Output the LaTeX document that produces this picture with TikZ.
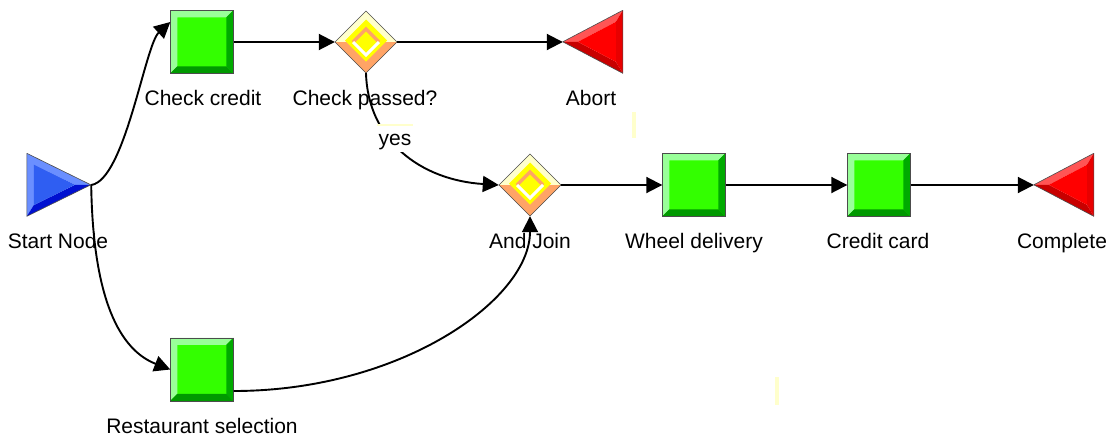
\documentclass[tikz,border=0pt]{standalone}
\usepackage{fontspec}
\setmainfont{Liberation Sans}
\usetikzlibrary{shapes.geometric,arrows.meta,calc}
\definecolor{sqmid}{HTML}{33FF00}
\definecolor{sqlight}{HTML}{99FF99}
\definecolor{sqdark}{HTML}{009900}
\definecolor{sqright}{HTML}{00AA00}
\definecolor{blmid}{HTML}{2F5EF2}
\definecolor{bllight}{HTML}{6A8FFF}
\definecolor{bldark}{HTML}{0010D0}
\definecolor{rdmid}{HTML}{FF0000}
\definecolor{rdlight}{HTML}{FF5555}
\definecolor{rdright}{HTML}{E80000}
\definecolor{rddark}{HTML}{C80000}
\definecolor{dpale}{HTML}{FFFFCC}
\definecolor{dsal}{HTML}{FFA466}
\definecolor{dyel}{HTML}{FFFF00}
\newcommand{\drawsquare}[1]{%
  \begin{scope}[shift={(#1.north west)}]
    \fill[sqmid] (0,0) rectangle (63,63);
    \fill[sqlight] (0,0) -- (63,0) -- (56,7) -- (7,7) -- (7,56) -- (0,63) -- cycle;
    \fill[sqright] (63,0) -- (63,63) -- (56,56) -- (56,7) -- cycle;
    \fill[sqdark] (0,63) -- (63,63) -- (56,56) -- (7,56) -- cycle;
    \draw[black!70, line width=0.6pt] (0,0) rectangle (63,63);
  \end{scope}}
\newcommand{\drawstart}[1]{%
  \begin{scope}[shift={(#1.north west)}]
    \fill[bllight] (0,0) -- (64,31.5) -- (48.2,31.5) -- (7,11.2) -- (7,51.8) -- (0,63) -- cycle;
    \fill[bldark] (0,63) -- (64,31.5) -- (48.2,31.5) -- (7,51.8) -- cycle;
    \fill[blmid] (7,11.2) -- (48.2,31.5) -- (7,51.8) -- cycle;
    \draw[black!70, line width=0.6pt, line join=round] (0,0) -- (64,31.5) -- (0,63) -- cycle;
  \end{scope}}
\newcommand{\drawend}[1]{%
  \begin{scope}[shift={(#1.north west)}]
    \fill[rdlight] (0,31.5) -- (60,0) -- (53,11.6) -- (15,31.5) -- cycle;
    \fill[rdright] (60,0) -- (60,63) -- (53,51.4) -- (53,11.6) -- cycle;
    \fill[rddark] (0,31.5) -- (60,63) -- (53,51.4) -- (15,31.5) -- cycle;
    \fill[rdmid] (15,31.5) -- (53,11.6) -- (53,51.4) -- cycle;
    \draw[black!70, line width=0.6pt, line join=round] (0,31.5) -- (60,0) -- (60,63) -- cycle;
  \end{scope}}
\newcommand{\drawgate}[1]{%
  \begin{scope}[shift={(#1.center)}]
    \fill[dpale] (-31,0) -- (0,-31) -- (31,0) -- cycle;
    \fill[dsal] (-31,0) -- (0,31) -- (31,0) -- cycle;
    \fill[dyel] (-21,-1.5) -- (0,-22.5) -- (21,-1.5) -- (0,19.5) -- cycle;
    \draw[dsal, line width=3.5pt] (-13,0) -- (0,-13) -- (13,0);
    \draw[white, line width=3pt] (-13,0) -- (0,13) -- (13,0);
    \draw[black!70, line width=0.6pt] (-31,0) -- (0,-31) -- (31,0) -- (0,31) -- cycle;
  \end{scope}}
\tikzset{
  sqbox/.style={rectangle, minimum width=63pt, minimum height=63pt, inner sep=0pt},
  startbox/.style={rectangle, minimum width=64pt, minimum height=63pt, inner sep=0pt},
  endbox/.style={rectangle, minimum width=60pt, minimum height=63pt, inner sep=0pt},
  gatebox/.style={diamond, minimum width=62pt, minimum height=62pt, inner sep=0pt},
  lbl/.style={anchor=base, inner sep=0pt, font=\fontsize{21}{25}\selectfont},
  flow/.style={line width=1.9pt, -{Triangle[length=16pt,width=16pt]}},
  speck/.style={fill=dpale, draw=none}
}
\begin{document}
\begin{tikzpicture}[x=1pt, y=-1pt]
\useasboundingbox[fill=white] (0,0) rectangle (1112,437);

% nodes
\node[startbox] (st) at (59,185) {};
\node[sqbox] (cc) at (202,42) {};
\node[gatebox] (cp) at (366,42) {};
\node[endbox] (ab) at (593,42) {};
\node[gatebox] (aj) at (530,185) {};
\node[sqbox] (wd) at (694,185) {};
\node[sqbox] (ccard) at (879,185) {};
\node[endbox] (cm) at (1064,185) {};
\node[sqbox] (rs) at (202,369.5) {};

\drawstart{st}
\drawsquare{cc}
\drawgate{cp}
\drawend{ab}
\drawgate{aj}
\drawsquare{wd}
\drawsquare{ccard}
\drawend{cm}
\drawsquare{rs}

% connectors
\draw[flow] (st.east) .. controls (125,180) and (145,45) .. ($(cc.west)+(0,-20)$);
\draw[flow] (st.east) .. controls (93,300) and (120,350) .. (rs.west);
\draw[flow] (cc.east) -- (cp.west);
\draw[flow] (cp.east) -- (ab.west);
\draw[flow] (cp.south) .. controls (368,140) and (420,180) .. (aj.west);
\draw[flow] ($(rs.east)+(0,21.5)$) .. controls (400,391) and (530,300) .. (aj.south);
\draw[flow] (aj.east) -- (wd.west);
\draw[flow] (wd.east) -- (ccard.west);
\draw[flow] (ccard.east) -- (cm.west);

% yes label box
\node[fill=white, minimum width=36pt, minimum height=28pt, inner sep=0pt] (yesbox) at (395,138) {};
\fill[speck] (yesbox.north west) rectangle ($(yesbox.north east)+(0,2.5)$);
\node[lbl] (yes) at (395,145) {yes};

% labels
\node[lbl] (lst) at (58,248) {Start Node};
\node[lbl] (lcc) at (203,105) {Check credit};
\node[lbl] (lcp) at (365,105) {Check passed?};
\node[lbl] (lab) at (591,105) {Abort};
\node[lbl] (laj) at (530,248) {And Join};
\node[lbl] (lwd) at (694,248) {Wheel delivery};
\node[lbl] (lccard) at (878,248) {Credit card};
\node[lbl] (lcm) at (1062,248) {Complete};
\node[lbl] (lrs) at (202,433) {Restaurant selection};

% faint specks
\fill[speck] (632,112) rectangle (636,138);
\fill[speck] (775,377) rectangle (779,405);
\end{tikzpicture}
\end{document}
